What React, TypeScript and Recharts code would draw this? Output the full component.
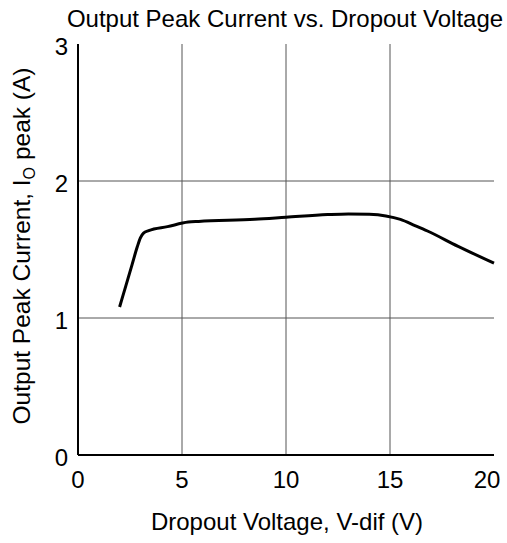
import React from 'react';
import { LineChart, Line, XAxis, YAxis, CartesianGrid } from 'recharts';

const dropoutVoltage = [2.0, 2.3, 2.6, 2.85, 3.0, 3.15, 3.4, 4.3, 5.3, 5.8, 8.5, 10.0, 12.0, 13.0, 14.0, 14.8, 15.5, 16.2, 16.8, 18.25, 20.0];
const peakCurrent = [1.08, 1.235, 1.39, 1.52, 1.585, 1.62, 1.638, 1.667, 1.70, 1.705, 1.72, 1.735, 1.755, 1.76, 1.757, 1.745, 1.72, 1.675, 1.635, 1.525, 1.40];
const xTicks = [0, 5, 10, 15, 20];
const yTicks = [0, 1, 2, 3];

const data = dropoutVoltage.map((v, i) => ({ v, i: peakCurrent[i] }));

const FONT = '"Liberation Sans", Arial, sans-serif';

const XTick = (props: any) => {
  const { x, y, payload } = props;
  const shift = payload.value === 20 ? -7 : 0;
  return (
    <text x={x + shift} y={y} dy="0.71em" textAnchor="middle" fontSize={24} fontFamily={FONT} fill="#000">
      {payload.value}
    </text>
  );
};

export default function App() {
  return (
    <div style={{ position: 'absolute', left: 0, top: 0, width: 507, height: 543, background: '#fff' }}>
      <LineChart width={507} height={543} data={data} margin={{ top: 44, right: 13, bottom: 28, left: 0 }}>
        <CartesianGrid stroke="#555" strokeWidth={1} horizontalValues={[1, 2]} verticalValues={[5, 10, 15]} />
        <XAxis
          dataKey="v"
          type="number"
          domain={[0, 20]}
          ticks={xTicks}
          height={60}
          tickLine={false}
          tickSize={0}
          tickMargin={16}
          axisLine={{ stroke: '#000', strokeWidth: 2 }}
          tick={<XTick />}
          interval={0}
        />
        <XAxis xAxisId="top" orientation="top" dataKey="v" type="number" domain={[0, 20]} height={0} tick={false} tickLine={false} axisLine={{ stroke: '#000', strokeWidth: 2 }} />
        <YAxis
          type="number"
          domain={[0, 3]}
          ticks={yTicks}
          width={78}
          tickLine={false}
          tickSize={0}
          tickMargin={10}
          axisLine={{ stroke: '#000', strokeWidth: 2 }}
          tick={{ fill: '#000', fontSize: 24, fontFamily: FONT, dy: 2 }}
          interval={0}
        />
        <YAxis yAxisId="right" orientation="right" type="number" domain={[0, 3]} width={0} tick={false} tickLine={false} axisLine={{ stroke: '#000', strokeWidth: 2 }} />
        <Line dataKey="i" type="monotone" stroke="#000" strokeWidth={3} dot={false} isAnimationActive={false} />
        <text x={285} y={27} textAnchor="middle" fontSize={24} fontFamily={FONT} fill="#000">Output Peak Current vs. Dropout Voltage</text>
        <text x={287} y={530} textAnchor="middle" fontSize={24} fontFamily={FONT} fill="#000">Dropout Voltage, V-dif (V)</text>
        <text x={0} y={0} transform="translate(30,246) rotate(-90)" textAnchor="middle" fontSize={24.5} fontFamily={FONT} fill="#000">
          Output Peak Current, I<tspan fontSize={16} dy={5}>O</tspan><tspan dy={-5}> peak (A)</tspan>
        </text>
      </LineChart>
    </div>
  );
}
